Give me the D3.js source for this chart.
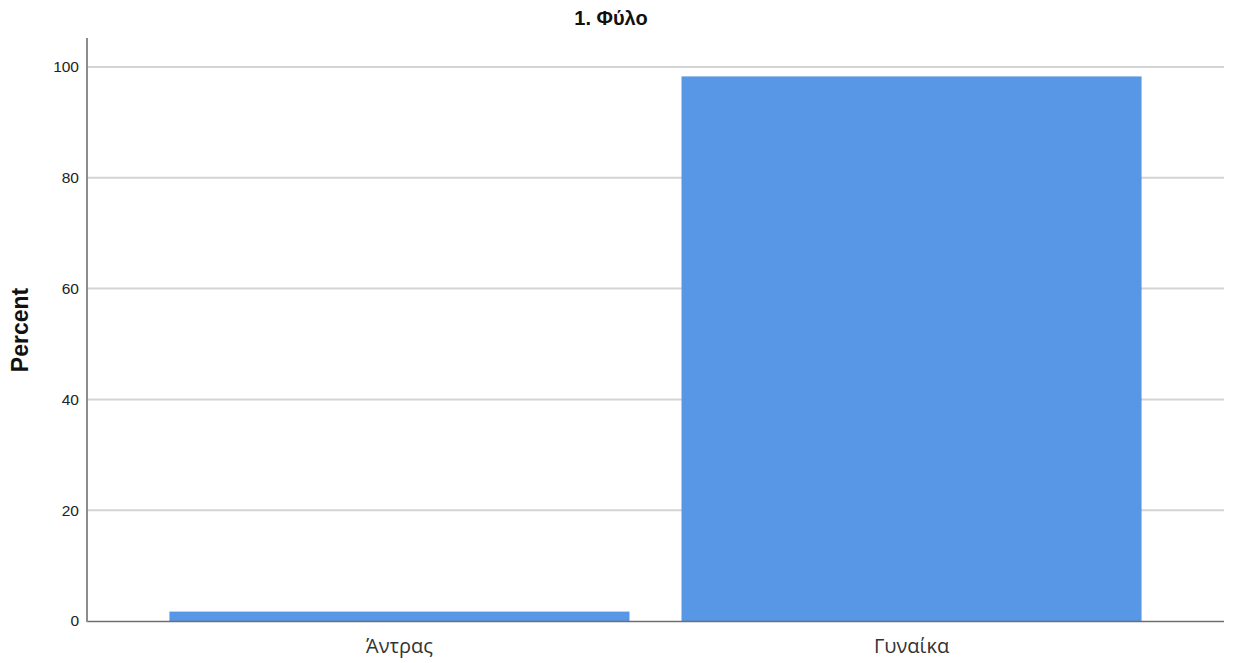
<!DOCTYPE html>
<html><head><meta charset="utf-8">
<script src="https://cdn.jsdelivr.net/npm/d3@7"></script>
<style>body{margin:0;background:#fff}svg{display:block}</style>
</head><body>
<svg id="c" width="1234" height="663"></svg>
<script>
const categories = ["Άντρας", "Γυναίκα"];
const percents = [1.7, 98.3];
const yTicks = [0, 20, 40, 60, 80, 100];
const title = "1. Φύλο";
const yLabel = "Percent";

const svg = d3.select("#c");
const left = 87, right = 1224, y0 = 621, y100 = 67, axisTop = 38;
const x = d3.scaleBand().domain(categories).range([left, right]).paddingInner(0.1016).paddingOuter(0.161);
const y = d3.scaleLinear().domain([0, 100]).range([y0, y100]);

// gridlines
svg.append("g").selectAll("line").data(yTicks.filter(d => d > 0)).join("line")
  .attr("x1", left).attr("x2", right)
  .attr("y1", d => y(d)).attr("y2", d => y(d))
  .attr("stroke", "#d4d4d4").attr("stroke-width", 2);

// bars
svg.append("g").selectAll("rect").data(categories).join("rect")
  .attr("x", d => x(d)).attr("width", x.bandwidth())
  .attr("y", (d, i) => y(percents[i])).attr("height", (d, i) => y(0) - y(percents[i]))
  .attr("fill", "#5797e5");

// x baseline
svg.append("line").attr("x1", left).attr("x2", right).attr("y1", y0 + 0.5).attr("y2", y0 + 0.5)
  .attr("stroke", "#6f6f6f").attr("stroke-width", 1.5);
// y axis line
svg.append("line").attr("x1", left).attr("x2", left).attr("y1", axisTop).attr("y2", y0 + 1)
  .attr("stroke", "#8c8c8c").attr("stroke-width", 2);

// y tick labels
const yAxis = d3.axisLeft(y).tickValues(yTicks).tickSize(0).tickPadding(8);
const ga = svg.append("g").attr("transform", `translate(${left},0)`).call(yAxis);
ga.select(".domain").remove();
ga.selectAll("text").attr("font-family", "Liberation Sans, Arial, sans-serif").attr("font-size", 15.5).attr("fill", "#222");

// x labels
const xAxis = d3.axisBottom(x).tickSize(0).tickPadding(16);
const gx = svg.append("g").attr("transform", `translate(0,${y0})`).call(xAxis);
gx.select(".domain").remove();
gx.selectAll("text").attr("font-family", "Open Sans, Noto Sans, sans-serif").attr("font-size", 20)
  .attr("fill", "#333").attr("dy", null).attr("y", 32);

// title
svg.append("text").attr("x", 611).attr("y", 25).attr("text-anchor", "middle")
  .attr("font-family", "Liberation Sans, Arial, sans-serif").attr("font-weight", "bold").attr("font-size", 20)
  .attr("fill", "#111").text(title);

// y label
svg.append("text").attr("transform", "translate(28,330) rotate(-90)").attr("text-anchor", "middle")
  .attr("font-family", "Liberation Sans, Arial, sans-serif").attr("font-weight", "bold").attr("font-size", 23)
  .attr("fill", "#111").text(yLabel);
</script>
</body></html>
